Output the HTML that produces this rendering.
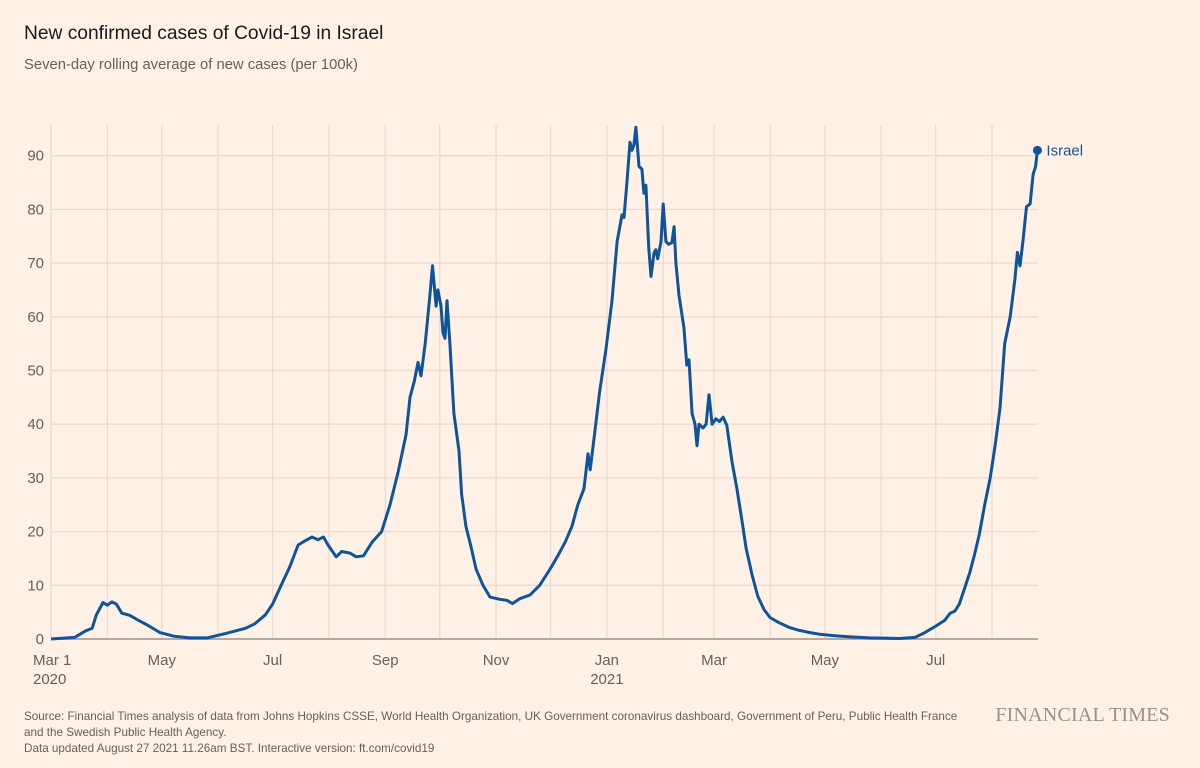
<!DOCTYPE html>
<html><head><meta charset="utf-8"><style>
body{margin:0;background:#fff1e5;font-family:"Liberation Sans",sans-serif;}
#wrap{position:relative;width:1200px;height:768px;background:#fff1e5;overflow:hidden}
.t{position:absolute;white-space:nowrap}
</style></head><body>
<div id="wrap">
<div class="t" style="left:24px;top:23px;font-size:19.2px;color:#1a1a1a">New confirmed cases of Covid-19 in Israel</div>
<div class="t" style="left:24px;top:57px;font-size:14.8px;color:#66605c">Seven-day rolling average of new cases (per 100k)</div>
<svg id="chart" width="1200" height="768" style="position:absolute;left:0;top:0"></svg>
<div class="t" style="left:24px;top:709px;font-size:11.7px;line-height:16px;color:#66605c">Source: Financial Times analysis of data from Johns Hopkins CSSE, World Health Organization, UK Government coronavirus dashboard, Government of Peru, Public Health France<br>and the Swedish Public Health Agency.<br>Data updated August 27 2021 11.26am BST. Interactive version: ft.com/covid19</div>
<div class="t" style="right:30px;top:704px;font-family:'Liberation Serif',serif;font-size:20px;color:#999089;letter-spacing:0.2px">FINANCIAL TIMES</div>
</div>
<script>
const days=[0,13,19,22.6,25,28.6,31,33.6,36,39,43.5,48,53,60,68,76.5,86,96,107,112,118,122,126,131.5,136,140,143.7,147,150,152.5,157,160,164.6,168,172,176.7,182,186.6,191,195.4,197.6,200,202,203.7,206,208.6,210,212,213,214.7,215.8,216.9,218,219.6,221.8,224.6,226,228.4,231,234,237.8,241.7,247,251,254,258,263.7,269,274.7,279,283,286.8,290,293.4,295.6,296.8,299.5,302,305.5,308.8,311.6,314.3,315.4,317,318.7,319.8,320.9,322,323.7,325.3,326.4,327.5,329,330.3,332,333,334,335.8,337,338.5,340,341.8,343,344,345.7,348.4,350,351.2,352.9,354.5,355.6,356.7,358.9,360.6,362.2,363.9,366,368,370,372,374.9,377.6,380.4,382.6,385.9,389,392.5,395.8,401,406.8,412,417.8,423,431.6,440,451,467,475.6,481,486.6,492,495,497.6,500,503,505.9,508.6,511,514,517,519.7,522.4,525,528,530.6,532,533.4,535,537,539,540.6,542,543];
const cases=[0,0.3,1.5,2,4.5,6.8,6.3,6.9,6.5,4.8,4.4,3.5,2.6,1.2,0.5,0.2,0.2,1.0,2.0,2.8,4.5,6.5,9.5,13.5,17.5,18.3,19,18.5,19,17.5,15.3,16.3,16,15.3,15.5,18,20,25,31,38,45,48,51.5,49,55,64,69.5,62,65,62,57,56,63,55,42,35,27,21,17.5,13,10,7.8,7.4,7.2,6.6,7.5,8.2,10,13,15.5,18,21,25,28,34.5,31.5,39,46,54,63,74,79,78.5,85,92.5,91,92,95.3,88,87.5,83,84.5,73,67.5,72,72.5,70.8,74,81,74,73.5,73.8,76.8,70,64,58,51,52,42,40,36,40,39.3,40,45.5,40,41,40.5,41.3,39.8,33,28,22,17,12,8,5.5,4,3,2.1,1.6,1.2,0.9,0.6,0.4,0.2,0.1,0.3,1.2,2.3,3.5,4.8,5.2,6.5,9.5,12.5,16,19.5,25,30,36,43,55,60,67,72,69.5,74,80.5,81,86.5,88,91];
const yTicks=[0,10,20,30,40,50,60,70,80,90];
const monthDays=[0,31,61,92,122,153,184,214,245,275,306,337,365,396,426,457,487,518];
const xLabels=[[0,"Mar 1","2020"],[61,"May",""],[122,"Jul",""],[184,"Sep",""],[245,"Nov",""],[306,"Jan","2021"],[365,"Mar",""],[426,"May",""],[487,"Jul",""]];
const X0=51,PXD=1.8166,Y0=639,PXV=5.37,XR=1038;
const x=d=>X0+d*PXD, y=v=>Y0-v*PXV;
const svg=document.getElementById('chart'),NS="http://www.w3.org/2000/svg";
function mk(t,a){const e=document.createElementNS(NS,t);for(const k in a)e.setAttribute(k,a[k]);svg.appendChild(e);return e;}
monthDays.forEach(d=>{const l=mk('line',{x1:x(d),x2:x(d),y1:125,y2:Y0,stroke:'#e9dbce','stroke-width':1.3});

});
yTicks.forEach(v=>{if(v>0){const l=mk('line',{x1:X0,x2:XR,y1:y(v),y2:y(v),stroke:'#e9dbce','stroke-width':1.3});

}
const t=mk('text',{x:44,y:y(v)+5,'text-anchor':'end','font-size':15,fill:'#66605c','font-family':'Liberation Sans, sans-serif'});t.textContent=v;

});
const base=mk('line',{x1:X0,x2:XR,y1:Y0,y2:Y0,stroke:'#b3a9a0','stroke-width':2});


xLabels.forEach(([d,a,b])=>{const t=mk('text',{x:x(d)-(d==0?18:0),y:665,'text-anchor':d==0?'start':'middle','font-size':15,fill:'#66605c','font-family':'Liberation Sans, sans-serif'});t.textContent=a;


if(b){const t2=mk('text',{x:x(d)-(d==0?18:0),y:684,'text-anchor':d==0?'start':'middle','font-size':15,fill:'#66605c','font-family':'Liberation Sans, sans-serif'});t2.textContent=b;

}});
const p=mk('path',{d:days.map((d,i)=>(i?'L':'M')+x(d).toFixed(1)+','+y(cases[i]).toFixed(1)).join(''),fill:'none',stroke:'#0f5499','stroke-width':3,'stroke-linejoin':'round'});


const li=days.length-1;
const c=mk('circle',{cx:x(days[li]),cy:y(cases[li]),r:4.5,fill:'#0f5499'});


const lt=mk('text',{x:x(days[li])+9,y:y(cases[li])+5,'font-size':15,fill:'#0f5499','font-family':'Liberation Sans, sans-serif'});lt.textContent='Israel';


</script>
</body></html>
